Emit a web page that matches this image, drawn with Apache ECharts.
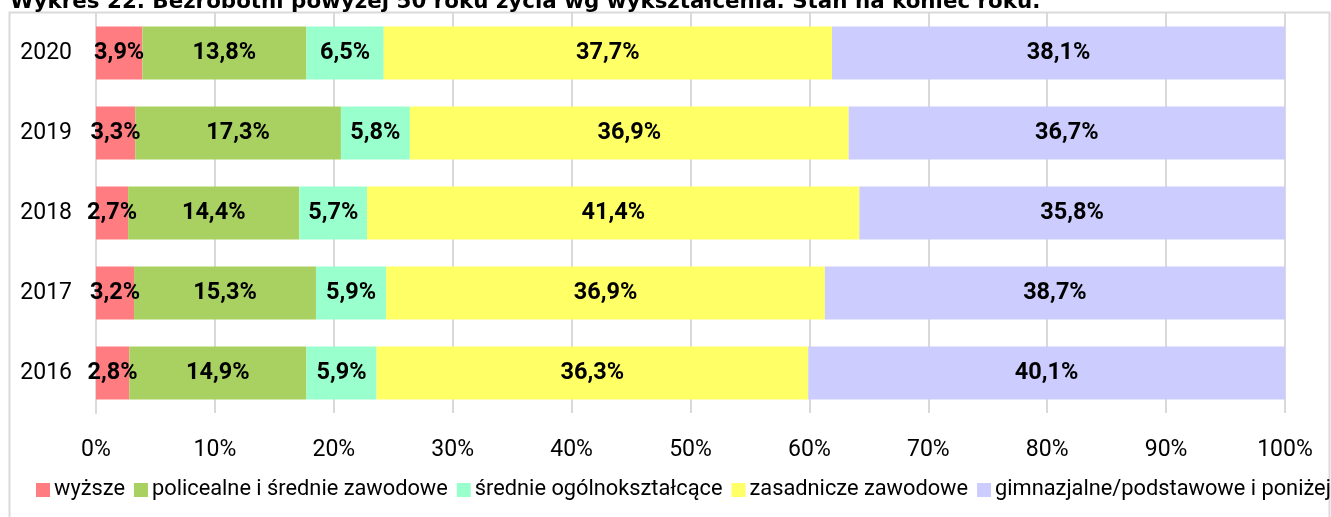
<!DOCTYPE html>
<html>
<head>
<meta charset="utf-8">
<script src="https://cdn.jsdelivr.net/npm/echarts@6/dist/echarts.min.js"></script>
<style>
html,body{margin:0;padding:0;background:#fff;}
#chart{width:1331px;height:517px;}
</style>
</head>
<body>
<div id="chart"></div>
<script>
var titleText = 'Wykres 22. Bezrobotni powyżej 50 roku życia wg wykształcenia. Stan na koniec roku.';
var years = ['2016', '2017', '2018', '2019', '2020'];
var seriesNames = ['wyższe', 'policealne i średnie zawodowe', 'średnie ogólnokształcące', 'zasadnicze zawodowe', 'gimnazjalne/podstawowe i poniżej'];
var wyzsze = [2.8, 3.2, 2.7, 3.3, 3.9];
var policealne = [14.9, 15.3, 14.4, 17.3, 13.8];
var srednieOgolne = [5.9, 5.9, 5.7, 5.8, 6.5];
var zasadnicze = [36.3, 36.9, 41.4, 36.9, 37.7];
var gimnazjalne = [40.1, 38.7, 35.8, 36.7, 38.1];
var xTicks = [0, 10, 20, 30, 40, 50, 60, 70, 80, 90, 100];

var colors = ['#FF7C80', '#A9D162', '#99FFCC', '#FFFF66', '#CCCCFF'];
var allValues = [wyzsze, policealne, srednieOgolne, zasadnicze, gimnazjalne];
var FONT = 'Roboto';

var series = allValues.map(function (vals, i) {
  return {
    name: seriesNames[i],
    type: 'bar',
    stack: 'total',
    barWidth: 53,
    data: vals,
    itemStyle: { color: colors[i] },
    label: {
      show: true,
      position: 'inside',
      formatter: function (p) { return p.value.toFixed(1).replace('.', ',') + '%'; },
      fontFamily: FONT,
      fontWeight: 'bold',
      fontSize: 23.5,
      color: '#000'
    },
    emphasis: { disabled: true }
  };
});

var chart = echarts.init(document.getElementById('chart'), null, { renderer: 'canvas' });
chart.setOption({
  animation: false,
  color: colors,
  graphic: [
    {
      type: 'rect',
      shape: { x: 9.5, y: 12.5, width: 1320, height: 520 },
      style: { fill: 'none', stroke: '#D9D9D9', lineWidth: 2 },
      z: 0
    },
    {
      type: 'text',
      left: 10,
      top: -8.5,
      style: {
        text: titleText,
        fontFamily: 'DejaVu Sans',
        fontWeight: 'bold',
        fontSize: 21.4,
        fill: '#000'
      },
      z: 10
    }
  ],
  grid: { left: 96, right: 46, top: 13, bottom: 104, containLabel: false },
  xAxis: {
    type: 'value',
    min: 0,
    max: 100,
    interval: 10,
    axisLine: { show: false },
    axisTick: { show: false },
    splitLine: { show: true, lineStyle: { color: '#D9D9D9', width: 2 } },
    axisLabel: {
      formatter: function (v) { return v + '%'; },
      fontFamily: FONT,
      fontSize: 23,
      color: '#000',
      margin: 26
    }
  },
  yAxis: {
    type: 'category',
    data: years,
    axisLine: { show: true, lineStyle: { color: '#D9D9D9', width: 2 } },
    axisTick: { show: false },
    axisLabel: {
      fontFamily: FONT,
      fontSize: 23,
      color: '#000',
      margin: 24
    }
  },
  legend: {
    left: 31,
    top: 474,
    width: 1400,
    itemWidth: 14,
    itemHeight: 14,
    itemGap: 9,
    icon: 'rect',
    selectedMode: false,
    textStyle: { fontFamily: FONT, fontSize: 21.8, color: '#000', padding: [0, 0, 0, -1] },
    data: seriesNames
  },
  series: series
});
</script>
</body>
</html>
